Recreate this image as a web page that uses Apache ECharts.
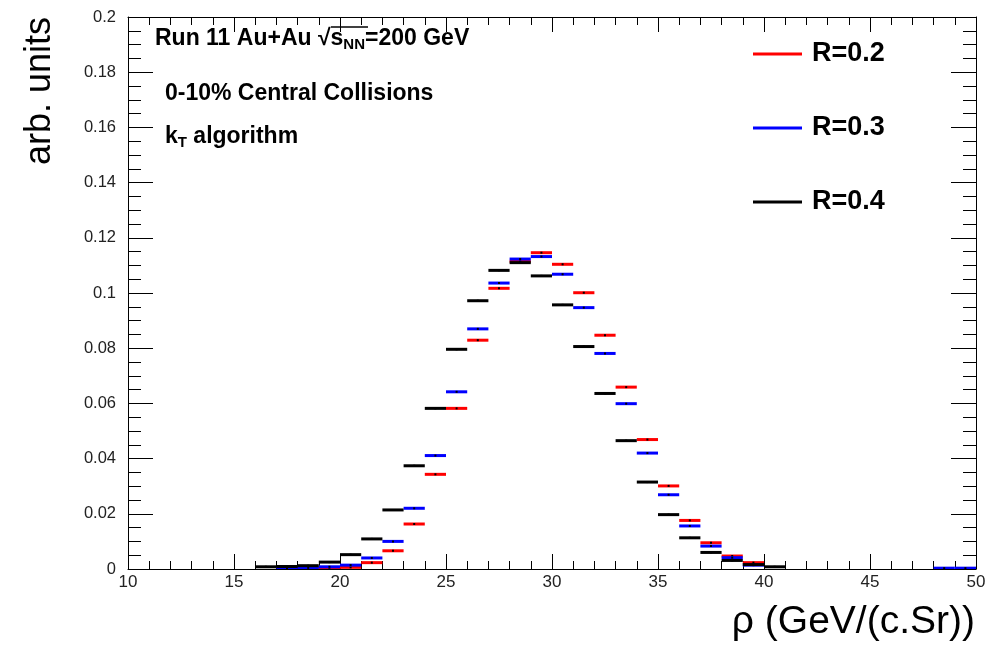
<!DOCTYPE html>
<html>
<head>
<meta charset="utf-8">
<script src="https://cdn.jsdelivr.net/npm/echarts@6/dist/echarts.min.js"></script>
<style>
html,body{margin:0;padding:0;background:#fff;}
#chart{width:999px;height:653px;}
</style>
</head>
<body>
<div id="chart"></div>
<script>
// ---- data (bin lower edges, bin width 1 GeV/(c.Sr)) ----
const binWidth = 1;
const seriesNames = ['R=0.2', 'R=0.3', 'R=0.4'];
const seriesColors = ['#ff0000', '#0000ff', '#000000'];

const binsR02 = [18, 19, 20, 21, 22, 23, 24, 25, 26, 27, 28, 29, 30, 31, 32, 33, 34, 35, 36, 37, 38, 39];
const valsR02 = [0.0001, 0.0003, 0.0006, 0.0023, 0.0066, 0.0163, 0.0343, 0.0582, 0.0829, 0.1017, 0.1115, 0.1146, 0.1104, 0.1001, 0.0847, 0.0659, 0.0469, 0.0301, 0.0176, 0.0095, 0.0047, 0.0023];

const binsR03 = [17, 18, 19, 20, 21, 22, 23, 24, 25, 26, 27, 28, 29, 30, 31, 32, 33, 34, 35, 36, 37, 38, 39, 48, 49];
const valsR03 = [0.0002, 0.0004, 0.0008, 0.0014, 0.0040, 0.0100, 0.0220, 0.0411, 0.0642, 0.0870, 0.1036, 0.1123, 0.1132, 0.1068, 0.0947, 0.0781, 0.0599, 0.0420, 0.0269, 0.0156, 0.0083, 0.0041, 0.0014, 0.0003, 0.0003];

const binsR04 = [16, 17, 18, 19, 20, 21, 22, 23, 24, 25, 26, 27, 28, 29, 30, 31, 32, 33, 34, 35, 36, 37, 38, 39, 40];
const valsR04 = [0.0008, 0.0009, 0.0012, 0.0025, 0.0052, 0.0109, 0.0214, 0.0374, 0.0582, 0.0796, 0.0972, 0.1082, 0.1110, 0.1062, 0.0957, 0.0806, 0.0636, 0.0465, 0.0315, 0.0197, 0.0113, 0.0060, 0.0031, 0.0016, 0.0008];

const xTicks = { min: 10, max: 50, interval: 5 };
const yTicks = { min: 0, max: 0.2, interval: 0.02 };

const xTitle = 'ρ (GeV/(c.Sr))';
const yTitle = 'arb. units';
// -------------------------------------------------

const F = '"Liberation Sans", Arial, Helvetica, sans-serif';
const chart = echarts.init(document.getElementById('chart'));

function zip(b, v) { return b.map((x, i) => [x, v[i]]); }
const allData = [zip(binsR02, valsR02), zip(binsR03, valsR03), zip(binsR04, valsR04)];

function makeRender(color) {
  return function (params, api) {
    const x0 = api.value(0), y = api.value(1);
    const p1 = api.coord([x0, y]);
    const p2 = api.coord([x0 + binWidth, y]);
    const cx = (p1[0] + p2[0]) / 2;
    return {
      type: 'group',
      children: [
        { type: 'line', shape: { x1: p1[0], y1: p1[1], x2: p2[0], y2: p2[1] },
          style: { stroke: color, lineWidth: 3 } },
        { type: 'rect', shape: { x: cx - 1, y: p1[1] - 1, width: 2, height: 2 },
          style: { fill: '#000' } }
      ]
    };
  };
}

const axisCommonX = {
  type: 'value', min: xTicks.min, max: xTicks.max, interval: xTicks.interval,
  axisLine: { show: true, onZero: false, lineStyle: { color: '#000', width: 1 } },
  axisTick: { show: true, inside: true, length: 15, lineStyle: { color: '#000' } },
  minorTick: { show: true, splitNumber: 5, length: 8, lineStyle: { color: '#000' } },
  splitLine: { show: false }
};
const axisCommonY = {
  type: 'value', min: yTicks.min, max: yTicks.max, interval: yTicks.interval,
  axisLine: { show: true, onZero: false, lineStyle: { color: '#000', width: 1 } },
  axisTick: { show: true, inside: true, length: 25, lineStyle: { color: '#000' } },
  minorTick: { show: true, splitNumber: 4, length: 13, lineStyle: { color: '#000' } },
  splitLine: { show: false }
};

const rich1 = {
  b: { fontSize: 23, fontWeight: 'bold', fontFamily: F, fill: '#000' },
  sub: { fontSize: 15, fontWeight: 'bold', fontFamily: F, fill: '#000', padding: [12, 0, 0, 0] }
};

chart.setOption({
  animation: false,
  backgroundColor: '#fff',
  grid: { left: 128, right: 23, top: 17, bottom: 84, containLabel: false },
  xAxis: [
    Object.assign({}, axisCommonX, {
      position: 'bottom',
      axisLabel: { show: true, margin: 5, fontSize: 17, fontFamily: F, color: '#222' }
    }),
    Object.assign({}, axisCommonX, { position: 'top', axisLabel: { show: false } })
  ],
  yAxis: [
    Object.assign({}, axisCommonY, {
      position: 'left',
      axisLabel: { show: true, margin: 12, fontSize: 16.5, fontFamily: F, color: '#222' }
    }),
    Object.assign({}, axisCommonY, { position: 'right', axisLabel: { show: false } })
  ],
  legend: {
    orient: 'vertical', left: 753, top: 40, padding: 0,
    itemWidth: 49, itemHeight: 3, itemGap: 46,
    icon: 'rect',
    data: seriesNames,
    textStyle: { fontSize: 27, fontWeight: 'bold', fontFamily: F, color: '#000', lineHeight: 28, padding: [0, 0, 0, 5] }
  },
  series: seriesNames.map((name, i) => ({
    name: name,
    type: 'custom',
    xAxisIndex: 0, yAxisIndex: 0,
    clip: true,
    itemStyle: { color: seriesColors[i] },
    encode: { x: 0, y: 1 },
    data: allData[i],
    renderItem: makeRender(seriesColors[i]),
    z: 2 + i
  })),
  graphic: [
    { type: 'text', left: 155, top: 27,
      style: { text: '{b|Run 11 Au+Au √}{b|s}{sub|NN}{b|=200 GeV}', rich: rich1 } },
    { type: 'line', shape: { x1: 331, y1: 27, x2: 368, y2: 27 }, style: { stroke: '#000', lineWidth: 1.3 } },
    { type: 'text', left: 165, top: 82,
      style: { text: '0-10% Central Collisions', fontSize: 23, fontWeight: 'bold', fontFamily: F, fill: '#000' } },
    { type: 'text', left: 165, top: 125,
      style: { text: '{b|k}{sub|T}{b| algorithm}', rich: rich1 } },
    { type: 'text', right: 24, top: 603,
      style: { text: xTitle, fontSize: 39, fontFamily: F, fill: '#000' } },
    { type: 'text', left: 22, top: 17, rotation: Math.PI / 2, originX: 0, originY: 0,
      style: { text: yTitle, fontSize: 36, fontFamily: F, fill: '#000' } }
  ]
});
</script>
</body>
</html>
